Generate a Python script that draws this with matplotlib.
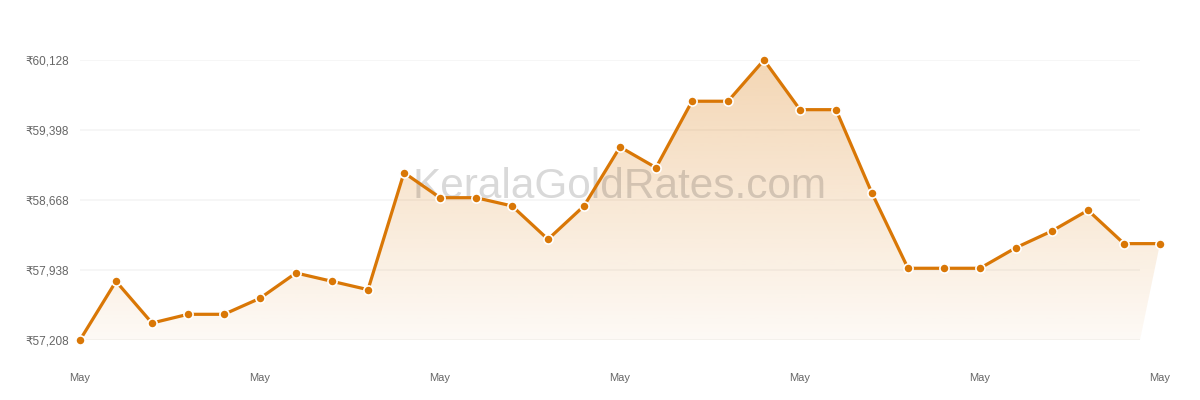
import matplotlib
matplotlib.use("Agg")
import matplotlib.pyplot as plt
import numpy as np
from matplotlib.patches import Polygon
from matplotlib.colors import LinearSegmentedColormap

prices = [57208, 57820, 57385, 57476, 57476, 57643, 57907, 57820, 57733,
          58953, 58692, 58692, 58606, 58258, 58606, 59221, 59005, 59698,
          59698, 60128, 59610, 59610, 58738, 57956, 57956, 57956, 58171,
          58345, 58561, 58213, 58213]
y_ticks = [57208, 57938, 58668, 59398, 60128]
y_tick_labels = ["₹57,208", "₹57,938", "₹58,668", "₹59,398", "₹60,128"]
x_label_idx = [0, 5, 10, 15, 20, 25, 30]
x_labels = ["May"] * 7
watermark = "KeralaGoldRates.com"

FONT = ["Liberation Sans", "DejaVu Sans"]
LINE = "#d97706"

fig = plt.figure(figsize=(12, 4), dpi=100)
ax = fig.add_axes([80 / 1200, 60 / 400, 1080 / 1200, 280 / 400])
n = len(prices)
x = np.arange(n)
ax.set_xlim(0, n - 1)
ax.set_ylim(y_ticks[0], y_ticks[-1])
for s in ax.spines.values():
    s.set_visible(False)

grid_end = (n - 1) * 1060 / 1080
ax.hlines(y_ticks, 0, grid_end, colors="#f5f5f5", linewidth=1.2, zorder=0)

# gradient fill
poly_xy = list(zip(x, prices)) + [(grid_end, y_ticks[0]), (0, y_ticks[0])]
poly = Polygon(poly_xy, closed=True, facecolor="none", edgecolor="none")
ax.add_patch(poly)
cmap = LinearSegmentedColormap.from_list(
    "g", [(217 / 255, 119 / 255, 6 / 255, 0.04), (217 / 255, 119 / 255, 6 / 255, 0.30)])
grad = np.linspace(0, 1, 256).reshape(-1, 1)
im = ax.imshow(grad, cmap=cmap, aspect="auto", origin="lower",
               extent=[0, n - 1, y_ticks[0], y_ticks[-1]], zorder=1)
im.set_clip_path(poly)

ax.text(0.5, 0.545, watermark, transform=ax.transAxes, ha="center", va="center",
        fontsize=30.5, family=FONT, color=(0, 0, 0, 0.15), zorder=2)

ax.plot(x, prices, color=LINE, linewidth=2.3, zorder=3, clip_on=False,
        marker="o", markersize=6.6, markerfacecolor=LINE,
        markeredgecolor="white", markeredgewidth=1.2)

ax.set_yticks(y_ticks)
ax.set_yticklabels(y_tick_labels, family=FONT, fontsize=8.5, color="#666666")
ax.set_xticks(x_label_idx)
ax.set_xticklabels(x_labels, family=FONT, fontsize=8, color="#666666")
ax.tick_params(axis="y", length=0, pad=8)
ax.tick_params(axis="x", length=0, pad=24)

fig.savefig("out.png", dpi=100, facecolor="white")
